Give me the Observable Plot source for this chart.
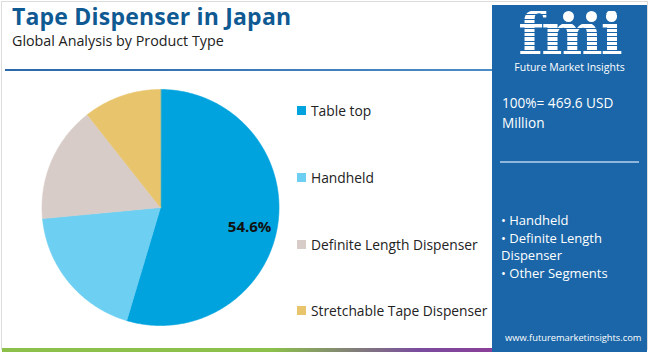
<!DOCTYPE html>
<html>
<head>
<meta charset="utf-8">
<script src="https://cdn.jsdelivr.net/npm/d3@7"></script>
<script src="https://cdn.jsdelivr.net/npm/@observablehq/plot@0.6"></script>
<style>
  body { margin: 0; background: #fff; }
  #wrap { position: relative; width: 650px; height: 352px; overflow: hidden; font-family: "Open Sans", sans-serif; }
  .abs { position: absolute; white-space: nowrap; }
  #border { position: absolute; left: 1px; top: 1px; width: 647px; height: 349px; border: 1px solid #dcdcdc; box-sizing: border-box; }
  #title { left: 12px; top: 3px; font-size: 23px; line-height: 27px; font-weight: 700; color: #0f5a92; letter-spacing: 0.2px; }
  #subtitle { left: 12px; top: 31px; font-size: 14.3px; line-height: 20px; color: #222; }
  #rule { position: absolute; left: 5px; top: 69px; width: 487px; height: 2px; background: linear-gradient(to right, #2a68a8, #4b8cc4); }
  #bottom { position: absolute; left: 2px; top: 348px; width: 490px; height: 4px; background: linear-gradient(to right, #8cc04b 0%, #8cc04b 55%, #7a4c9e 85%, #8a3f98 100%); }
  #panel { position: absolute; left: 492px; top: 5px; width: 155px; height: 347px; background: #1a66a8; }
  #plot { position: absolute; left: 0; top: 80px; }
  .leg { position: absolute; left: 297px; height: 20px; display: flex; align-items: center; font-size: 13.8px; color: #222; }
  .leg span.sw { width: 9px; height: 9px; margin-right: 5px; display: inline-block; }
  #fmi { left: 0; width: 155px; top: 6px; height: 46px; text-align: center; font-family: "DejaVu Serif", serif; font-weight: 700; font-size: 58px; line-height: 46px; letter-spacing: -2px;
         background: repeating-linear-gradient(to bottom, #fff 0px, #fff 3.4px, rgba(255,255,255,0) 3.4px, rgba(255,255,255,0) 4.4px);
         -webkit-background-clip: text; background-clip: text; color: transparent; }
  #fmisub { left: 0; width: 155px; top: 56px; text-align: center; color: #fff; font-size: 10.5px; line-height: 13px; }
  .globe { position: absolute; width: 11px; height: 11px; border-radius: 50%; background: #fff; top: 6px; }
  #total { left: 10px; top: 88px; color: #fff; font-size: 13.6px; line-height: 20px; }
  #prule { position: absolute; left: 8px; top: 156px; width: 139px; height: 2px; background: #8fb6dc; }
  #segs { left: 9px; top: 207px; color: #fff; font-size: 13px; line-height: 17.5px; }
  #url { left: 13px; top: 326px; color: #fff; font-size: 9.3px; line-height: 13px; }
</style>
</head>
<body>
<div id="wrap">
  <div id="border"></div>
  <div id="title" class="abs">Tape Dispenser in Japan</div>
  <div id="subtitle" class="abs">Global Analysis by Product Type</div>
  <div id="rule"></div>
  <div id="bottom"></div>
  <div id="plot"></div>
  <div id="legend"></div>
  <div id="panel">
    <div id="fmi" class="abs">fmi</div>
    <div class="globe" style="left:71px"></div>
    <div class="globe" style="left:94px"></div>
    <div class="globe" style="left:114px"></div>
    <div id="fmisub" class="abs">Future Market Insights</div>
    <div id="total" class="abs">100%= 469.6 USD<br>Million</div>
    <div id="prule"></div>
    <div id="segs" class="abs">• Handheld<br>• Definite Length<br>Dispenser<br>• Other Segments</div>
    <div id="url" class="abs">www.futuremarketinsights.com</div>
  </div>
</div>
<script>
const names = ["Table top", "Handheld", "Definite Length Dispenser", "Stretchable Tape Dispenser"];
const shares = [54.6, 18.9, 15.9, 10.6];
const colors = ["#00a3dd", "#6dcff2", "#d8ccc8", "#e8c56d"];
const legendCenters = [110.7, 177.3, 244, 310.7];

const rows = names.map((name, i) => ({name, share: shares[i]}));
const arcs = d3.pie().sort(null).value(d => d.share)(rows);

// polygon points for each slice, derived from the pie angles
const pts = [];
for (const a of arcs) {
  pts.push({name: a.data.name, x: 0, y: 0});
  const n = Math.max(2, Math.ceil((a.endAngle - a.startAngle) / 0.01));
  for (let k = 0; k <= n; k++) {
    const t = a.startAngle + (a.endAngle - a.startAngle) * k / n;
    pts.push({name: a.data.name, x: Math.sin(t), y: Math.cos(t)});
  }
}
const labels = arcs.filter(a => a.data.share > 30).map(a => {
  const m = (a.startAngle + a.endAngle) / 2;
  return {x: 0.76 * Math.sin(m), y: 0.76 * Math.cos(m), text: a.data.share.toFixed(1) + "%"};
});

const chart = Plot.plot({
  width: 490,
  height: 272,
  marginLeft: 41.5,
  marginRight: 211.5,
  marginTop: 9,
  marginBottom: 27,
  x: {domain: [-1, 1], axis: null},
  y: {domain: [-1, 1], axis: null},
  color: {domain: names, range: colors},
  marks: [
    Plot.line(pts, {x: "x", y: "y", z: "name", fill: "name", stroke: "name", strokeWidth: 0.6, curve: "linear-closed"}),
    Plot.text(labels, {x: "x", y: "y", text: "text", fontWeight: "bold", fontSize: 15, fill: "#111", dy: 7, fontFamily: "Open Sans"})
  ]
});
document.getElementById("plot").appendChild(chart);

const leg = document.getElementById("legend");
names.forEach((n, i) => {
  const d = document.createElement("div");
  d.className = "leg";
  d.style.top = (legendCenters[i] - 10) + "px";
  d.innerHTML = `<span class="sw" style="background:${colors[i]}"></span>${n}`;
  leg.appendChild(d);
});
</script>
</body>
</html>
